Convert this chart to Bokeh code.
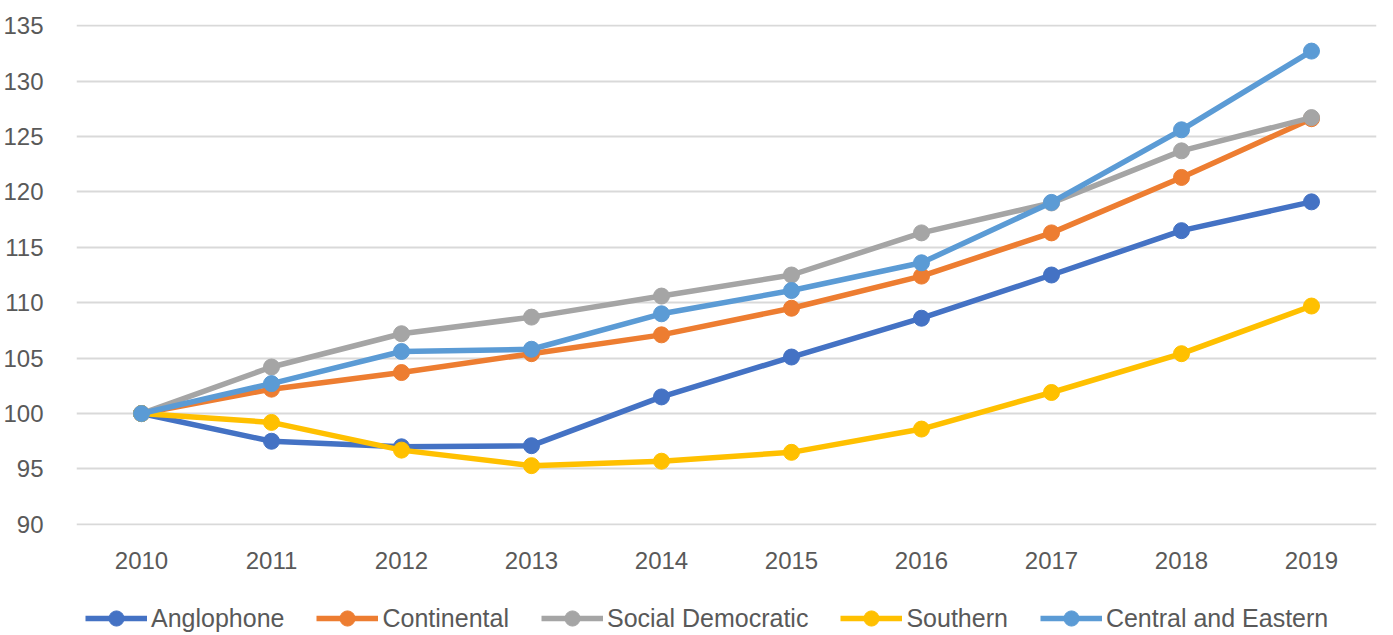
from bokeh.plotting import figure
from bokeh.layouts import column
from bokeh.models import Range1d, FactorRange, Legend, LegendItem, SingleIntervalTicker
from bokeh.embed import file_html
from bokeh.resources import INLINE

years = ["2010", "2011", "2012", "2013", "2014", "2015", "2016", "2017", "2018", "2019"]
anglophone = [100, 97.5, 97.0, 97.1, 101.5, 105.1, 108.6, 112.5, 116.5, 119.1]
continental = [100, 102.2, 103.7, 105.4, 107.1, 109.5, 112.4, 116.3, 121.3, 126.6]
social_democratic = [100, 104.2, 107.2, 108.7, 110.6, 112.5, 116.3, 119.0, 123.7, 126.7]
southern = [100, 99.2, 96.7, 95.3, 95.7, 96.5, 98.6, 101.9, 105.4, 109.7]
central_eastern = [100, 102.7, 105.6, 105.8, 109.0, 111.1, 113.6, 119.05, 125.6, 132.7]

series = [
    ("Anglophone", anglophone, "#4472C4"),
    ("Continental", continental, "#ED7D31"),
    ("Social Democratic", social_democratic, "#A5A5A5"),
    ("Southern", southern, "#FFC000"),
    ("Central and Eastern", central_eastern, "#5B9BD5"),
]

FONT = "Liberation Sans"
TXT = "#595959"
LW = 5.5
MS = 16

p = figure(width=1377, height=575, x_range=FactorRange(*years), y_range=Range1d(89.9, 135.1),
           output_backend="svg", toolbar_location=None,
           min_border_left=68, min_border_right=1, min_border_top=24, min_border_bottom=50)
p.outline_line_color = None
p.xgrid.grid_line_color = None
p.ygrid.grid_line_color = "#D9D9D9"
p.ygrid.grid_line_width = 2
p.yaxis.ticker = SingleIntervalTicker(interval=5)

for ax in (p.xaxis[0], p.yaxis[0]):
    ax.axis_line_color = None
    ax.major_tick_line_color = None
    ax.minor_tick_line_color = None
    ax.major_label_text_font = FONT
    ax.major_label_text_font_size = "24px"
    ax.major_label_text_color = TXT
p.yaxis.major_label_standoff = 27
p.xaxis.major_label_standoff = 20

for name, vals, col in series:
    p.line(years, vals, line_color=col, line_width=LW, line_join="round")
    p.scatter(years, vals, size=MS, fill_color=col, line_color=col)

# separate strip holding the legend below the chart (its data lies outside its view)
lf = figure(width=1377, height=59, x_range=FactorRange(*years), y_range=Range1d(0, 1),
            x_axis_type=None, y_axis_type=None, output_backend="svg", toolbar_location=None,
            min_border=0)
lf.outline_line_color = None
lf.xgrid.visible = False
lf.ygrid.visible = False
items = []
for name, vals, col in series:
    ln = lf.line(years, vals, line_color=col, line_width=LW)
    sc = lf.scatter(years, vals, size=MS, fill_color=col, line_color=col)
    items.append(LegendItem(label=name, renderers=[ln, sc]))

legend = Legend(items=items, orientation="horizontal", location=(9, -3),
                label_text_font=FONT, label_text_font_size="25px", label_text_color=TXT,
                glyph_width=62, glyph_height=38, label_standoff=4, spacing=32,
                padding=0, margin=0, border_line_color=None, background_fill_alpha=0)
lf.add_layout(legend, "center")

open("out.html", "w").write(file_html(column(p, lf), INLINE))
